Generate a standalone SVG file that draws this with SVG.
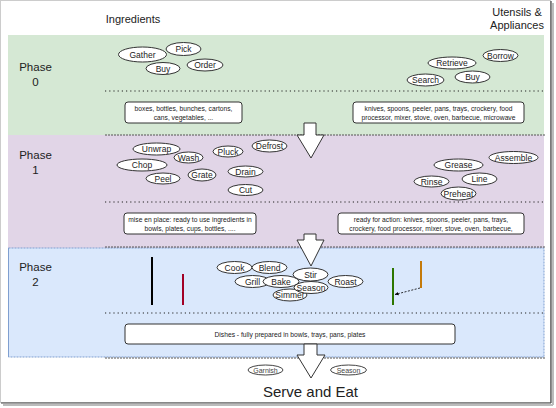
<svg xmlns="http://www.w3.org/2000/svg" width="556" height="408" viewBox="0 0 556 408">
<defs>
<style>
text{font-family:"Liberation Sans",Arial,sans-serif;fill:#222}
.hdr{font-size:11px;text-anchor:middle}
.ph{font-size:11.5px;text-anchor:middle}
.el ellipse{fill:#fff;stroke:#333;stroke-width:1}
.el text{font-size:8.5px;text-anchor:middle}
.bx rect{fill:#fff;stroke:#333;stroke-width:1}
.bx text{font-size:6.7px;text-anchor:middle}
.dot{stroke:#222;stroke-width:1.2;stroke-dasharray:1.2 3;fill:none}
.bnd{stroke:#555;stroke-width:1;stroke-dasharray:2 1;fill:none}
.blk{fill:#fff;stroke:#333;stroke-width:1}
.sm ellipse{fill:#fff;stroke:#444;stroke-width:1}
.sm text{font-size:7px;text-anchor:middle;fill:#444}
</style>
<marker id="ah" viewBox="0 0 10 10" refX="9" refY="5" markerWidth="5" markerHeight="5" orient="auto">
<path d="M0,1 L10,5 L0,9 z" fill="#000"/>
</marker>
</defs>
<rect x="0" y="0" width="556" height="408" fill="#fff"/>
<!-- frame -->
<rect x="0.5" y="0.5" width="550" height="402" fill="none" stroke="#ccc" stroke-width="1"/>
<line x1="551" y1="1" x2="551" y2="403" stroke="#444" stroke-width="1.2"/>
<line x1="1" y1="403" x2="551" y2="403" stroke="#444" stroke-width="1.2"/>
<line x1="553" y1="3" x2="553" y2="405" stroke="#bbb" stroke-width="2"/>
<line x1="3" y1="405" x2="553" y2="405" stroke="#bbb" stroke-width="2"/>

<!-- bands -->
<rect id="band0" x="8" y="35" width="536" height="100" fill="#d5e8d4"/>
<rect id="band1" x="8" y="135" width="536" height="113" fill="#e1d5e7"/>
<rect id="band2" x="8.5" y="248" width="535.5" height="109" fill="#dae8fc" stroke="#7f9fd0" stroke-width="1" stroke-dasharray="2 1"/>
<line x1="8.5" y1="248" x2="8.5" y2="357" stroke="#7f9fd0" stroke-width="1"/>

<text class="hdr" x="133" y="23">Ingredients</text>
<text class="hdr" x="517" y="16">Utensils &amp;</text>
<text class="hdr" x="517" y="29">Appliances</text>

<text class="ph" x="35.5" y="71">Phase</text>
<text class="ph" x="35.5" y="86">0</text>
<text class="ph" x="35.5" y="159">Phase</text>
<text class="ph" x="35.5" y="174">1</text>
<text class="ph" x="35.5" y="271">Phase</text>
<text class="ph" x="35.5" y="286">2</text>

<!-- separator lines -->
<line class="dot" x1="105" y1="91" x2="545" y2="91"/>
<line class="bnd" x1="105" y1="135" x2="545" y2="135"/>
<line class="dot" x1="105" y1="202" x2="545" y2="202"/>
<line class="bnd" x1="105" y1="247" x2="545" y2="247"/>
<line class="dot" x1="105" y1="313" x2="545" y2="313"/>
<line class="bnd" x1="105" y1="358" x2="545" y2="358"/>

<!-- Phase 0 ingredients -->
<g id="gather" class="el"><ellipse cx="142.5" cy="54.5" rx="24" ry="7.5"/><text x="142.5" y="57.5">Gather</text></g>
<g id="pick" class="el"><ellipse cx="183.5" cy="49" rx="17.5" ry="6.5"/><text x="183.5" y="52">Pick</text></g>
<g id="buy1" class="el"><ellipse cx="163" cy="68.5" rx="17" ry="6"/><text x="163" y="71.5">Buy</text></g>
<g id="order" class="el"><ellipse cx="205" cy="65" rx="18" ry="6"/><text x="205" y="68">Order</text></g>
<!-- Phase 0 utensils -->
<g id="borrow" class="el"><ellipse cx="500.5" cy="55.5" rx="17.5" ry="6"/><text x="500.5" y="58.5">Borrow</text></g>
<g id="retrieve" class="el"><ellipse cx="452" cy="63" rx="24" ry="6"/><text x="452" y="66">Retrieve</text></g>
<g id="buy2" class="el"><ellipse cx="472.5" cy="77" rx="17.5" ry="6"/><text x="472.5" y="80">Buy</text></g>
<g id="search" class="el"><ellipse cx="425.5" cy="80" rx="18.5" ry="6"/><text x="425.5" y="83">Search</text></g>

<g id="box0a" class="bx"><rect x="125" y="102" width="117" height="21" rx="3"/><text x="183.5" y="111">boxes, bottles, bunches, cartons,</text><text x="183.5" y="119.5">cans, vegetables, ...</text></g>
<g id="box0b" class="bx"><rect x="353" y="102" width="171" height="21" rx="3"/><text x="438.5" y="111">knives, spoons, peeler, pans, trays, crockery, food</text><text x="438.5" y="119.5">processor, mixer, stove, oven, barbecue, microwave</text></g>

<!-- Phase 1 ingredients -->
<g id="unwrap" class="el"><ellipse cx="156.5" cy="149" rx="23.5" ry="6"/><text x="156.5" y="152">Unwrap</text></g>
<g id="wash" class="el"><ellipse cx="188.5" cy="157.5" rx="14.5" ry="5.5"/><text x="188.5" y="160.5">Wash</text></g>
<g id="chop" class="el"><ellipse cx="142" cy="165" rx="25" ry="6"/><text x="142" y="168">Chop</text></g>
<g id="peel" class="el"><ellipse cx="163" cy="178.5" rx="17" ry="5.5"/><text x="163" y="181.5">Peel</text></g>
<g id="grate" class="el"><ellipse cx="202" cy="175" rx="14" ry="6"/><text x="202" y="178">Grate</text></g>
<g id="pluck" class="el"><ellipse cx="228" cy="151.5" rx="15" ry="5.5"/><text x="228" y="154.5">Pluck</text></g>
<g id="defrost" class="el"><ellipse cx="269.5" cy="146" rx="17.5" ry="6"/><text x="269.5" y="149">Defrost</text></g>
<g id="drain" class="el"><ellipse cx="245.5" cy="171.5" rx="17.5" ry="5.5"/><text x="245.5" y="174.5">Drain</text></g>
<g id="cut" class="el"><ellipse cx="245.5" cy="190" rx="17.5" ry="5.5"/><text x="245.5" y="193">Cut</text></g>
<!-- Phase 1 utensils -->
<g id="assemble" class="el"><ellipse cx="513.5" cy="157.5" rx="24.5" ry="6"/><text x="513.5" y="160.5">Assemble</text></g>
<g id="grease" class="el"><ellipse cx="458.5" cy="165" rx="24.5" ry="6"/><text x="458.5" y="168">Grease</text></g>
<g id="line" class="el"><ellipse cx="479.5" cy="179" rx="17.5" ry="6"/><text x="479.5" y="182">Line</text></g>
<g id="rinse" class="el"><ellipse cx="431.5" cy="181.5" rx="17.5" ry="5.5"/><text x="431.5" y="184.5">Rinse</text></g>
<g id="preheat" class="el"><ellipse cx="458.5" cy="193.5" rx="17.5" ry="6.5"/><text x="458.5" y="196.5">Preheat</text></g>

<g id="box1a" class="bx"><rect x="124" y="213" width="132" height="21" rx="3"/><text x="190" y="222">mise en place: ready to use ingredients in</text><text x="190" y="230.5">bowls, plates, cups, bottles, ....</text></g>
<g id="box1b" class="bx"><rect x="338" y="213" width="186" height="21" rx="3"/><text x="431" y="222">ready for action: knives, spoons, peeler, pans, trays,</text><text x="431" y="230.5">crockery, food processor, mixer, stove, oven, barbecue,</text></g>

<!-- Phase 2 -->
<g id="bar-black"><line x1="152" y1="257" x2="152" y2="305" stroke="#000" stroke-width="2"/></g>
<g id="bar-red"><line x1="183" y1="274" x2="183" y2="305" stroke="#a20025" stroke-width="2"/></g>
<g id="bar-green"><line x1="393" y1="268" x2="393" y2="305" stroke="#2d7600" stroke-width="2"/></g>
<g id="bar-orange"><line x1="421" y1="261" x2="421" y2="288" stroke="#c47a0a" stroke-width="2"/></g>

<g id="cook" class="el"><ellipse cx="234.5" cy="267.5" rx="17.5" ry="6"/><text x="234.5" y="270.5">Cook</text></g>
<g id="blend" class="el"><ellipse cx="269.5" cy="267.5" rx="17.5" ry="6"/><text x="269.5" y="270.5">Blend</text></g>
<g id="grill" class="el"><ellipse cx="252.5" cy="281.5" rx="17.5" ry="6"/><text x="252.5" y="284.5">Grill</text></g>
<g id="bake" class="el"><ellipse cx="281" cy="281.5" rx="18" ry="6"/><text x="281" y="284.5">Bake</text></g>
<g id="stir" class="el"><ellipse cx="310.5" cy="274.5" rx="17.5" ry="6.5"/><text x="310.5" y="277.5">Stir</text></g>
<g id="roast" class="el"><ellipse cx="345.5" cy="281.5" rx="17.5" ry="6"/><text x="345.5" y="284.5">Roast</text></g>
<g id="simmer" class="el"><ellipse cx="290" cy="295" rx="17" ry="6"/><text x="290" y="298">Simmer</text></g>
<g id="season" class="el"><ellipse cx="311" cy="287.5" rx="17" ry="6"/><text x="311" y="290.5">Season</text></g>

<g id="box2" class="bx"><rect x="125" y="324" width="330" height="20" rx="3"/><text x="290" y="336.5">Dishes - fully prepared in bowls, trays, pans, plates</text></g>

<!-- final -->
<g id="garnish" class="sm"><ellipse cx="265.5" cy="370" rx="17.5" ry="5"/><text x="265.5" y="372.5">Garnish</text></g>
<g id="season2" class="sm"><ellipse cx="348.5" cy="370" rx="18" ry="5"/><text x="348.5" y="372.5">Season</text></g>
<text id="serve" x="310.5" y="397" font-size="15" text-anchor="middle">Serve and Eat</text>

<!-- connectors -->
<g id="connectors">
<path class="blk" d="M304,123 H316 V135 H324 L311,158 L297,135 H304 Z"/>
<path class="blk" d="M304,234 H316 V240 H324 L311,266 L297,240 H304 Z"/>
<path class="blk" d="M304,344 H317 V355 H325 L311,378 L297,355 H304 Z"/>
<line x1="420" y1="288" x2="395" y2="294.5" stroke="#000" stroke-width="0.8" stroke-dasharray="2 1.5" marker-end="url(#ah)"/>
</g>
</svg>
